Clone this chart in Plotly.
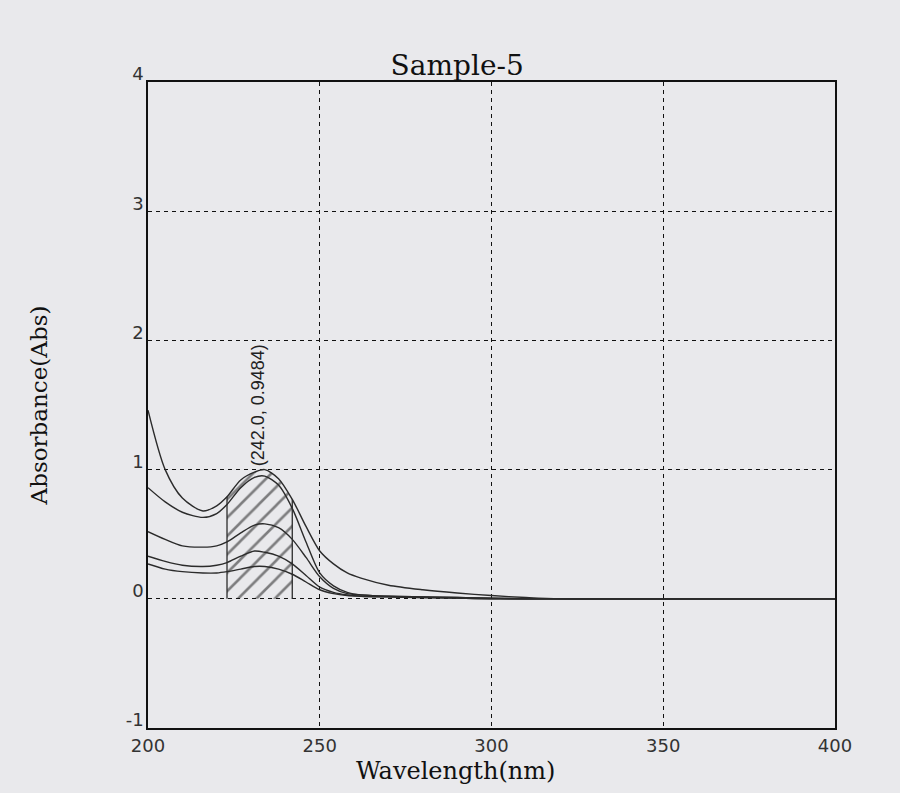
import plotly.graph_objects as go

# ---- data ----
wavelength = [200, 205, 210, 216, 220, 223, 227, 231, 234, 238, 242, 246, 250, 254, 258, 262, 270, 280, 290, 300, 310, 320, 400]
abs_a = [1.46, 1.00, 0.78, 0.68, 0.72, 0.79, 0.92, 0.98, 1.00, 0.93, 0.77, 0.56, 0.37, 0.27, 0.20, 0.16, 0.105, 0.07, 0.045, 0.025, 0.01, 0.0, 0.0]
abs_b = [0.86, 0.75, 0.67, 0.63, 0.66, 0.73, 0.86, 0.94, 0.95, 0.88, 0.70, 0.44, 0.20, 0.10, 0.05, 0.03, 0.02, 0.015, 0.01, 0.005, 0.0, 0.0, 0.0]
abs_c = [0.52, 0.46, 0.41, 0.40, 0.41, 0.44, 0.51, 0.57, 0.58, 0.55, 0.46, 0.32, 0.17, 0.08, 0.04, 0.03, 0.02, 0.015, 0.01, 0.005, 0.0, 0.0, 0.0]
abs_d = [0.33, 0.29, 0.26, 0.25, 0.26, 0.28, 0.33, 0.37, 0.36, 0.33, 0.27, 0.18, 0.09, 0.05, 0.03, 0.02, 0.015, 0.01, 0.005, 0.0, 0.0, 0.0, 0.0]
abs_e = [0.27, 0.23, 0.21, 0.20, 0.20, 0.21, 0.23, 0.25, 0.25, 0.23, 0.19, 0.13, 0.07, 0.04, 0.025, 0.02, 0.015, 0.01, 0.005, 0.0, 0.0, 0.0, 0.0]
series = [abs_a, abs_b, abs_c, abs_d, abs_e]

hatch_range = [223, 242]
peak_label = "(242.0, 0.9484)"
label_pos = [232, 1.01]

x_ticks = [200, 250, 300, 350, 400]
y_ticks = [-1, 0, 1, 2, 3, 4]

LINE = "#2b2b2b"
BG = "#e9e9ec"

fig = go.Figure()

# hatched area under the top curve
hx = [w for w in wavelength if hatch_range[0] <= w <= hatch_range[1]]
hy = [v for w, v in zip(wavelength, abs_a) if hatch_range[0] <= w <= hatch_range[1]]
fig.add_trace(go.Scatter(
    x=hx, y=hy, mode="lines", line=dict(width=0, shape="spline", smoothing=0.8),
    fill="tozeroy", fillcolor="rgba(0,0,0,0)",
    fillpattern=dict(shape="/", fgcolor="#111111", bgcolor="rgba(0,0,0,0)", size=13, solidity=0.2),
    hoverinfo="skip", showlegend=False))
for xe, ye in [(hx[0], hy[0]), (hx[-1], hy[-1])]:
    fig.add_trace(go.Scatter(x=[xe, xe], y=[0, ye], mode="lines",
                             line=dict(color=LINE, width=1.3), showlegend=False, hoverinfo="skip"))

for s in series:
    fig.add_trace(go.Scatter(x=wavelength, y=s, mode="lines",
                             line=dict(color=LINE, width=1.4, shape="spline", smoothing=0.8),
                             showlegend=False))

fig.add_annotation(x=label_pos[0], y=label_pos[1], text=peak_label, textangle=-90,
                   showarrow=False, xanchor="center", yanchor="bottom",
                   font=dict(family="Liberation Sans", size=18, color="#222"))

# x-axis title (placed slightly left of centre, as in the reference)
fig.add_annotation(x=0.447, y=-0.042, xref="paper", yref="paper", text="Wavelength(nm)",
                   showarrow=False, xanchor="center", yanchor="top",
                   font=dict(family="DejaVu Serif", size=24, color="#111"))

axis_common = dict(showline=True, mirror=True, linecolor="#111", linewidth=1.6,
                   showgrid=True, gridcolor="#111", gridwidth=1.2, griddash="4px,4px",
                   zeroline=False, ticks="",
                   tickfont=dict(family="DejaVu Sans", size=18, color="#333"))

fig.update_xaxes(range=[200, 400], tickvals=x_ticks, ticktext=[str(t) for t in x_ticks],
                 ticklabelstandoff=1, **axis_common)
fig.update_yaxes(range=[-1, 4], tickvals=y_ticks, ticktext=[str(t) for t in y_ticks],
                 title=dict(text="Absorbance(Abs)", font=dict(family="DejaVu Serif", size=23, color="#111"), standoff=72),
                 ticklabelstandoff=-1, ticklabelshift=-8, **axis_common)

fig.update_layout(
    width=900, height=793,
    margin=dict(l=148, r=65, t=82, b=65),
    paper_bgcolor=BG, plot_bgcolor=BG,
    title=dict(text="Sample-5", x=0.508, xanchor="center", y=0.918, yanchor="middle",
               font=dict(family="DejaVu Serif", size=28, color="#111")),
)

fig.write_html("out.html")
